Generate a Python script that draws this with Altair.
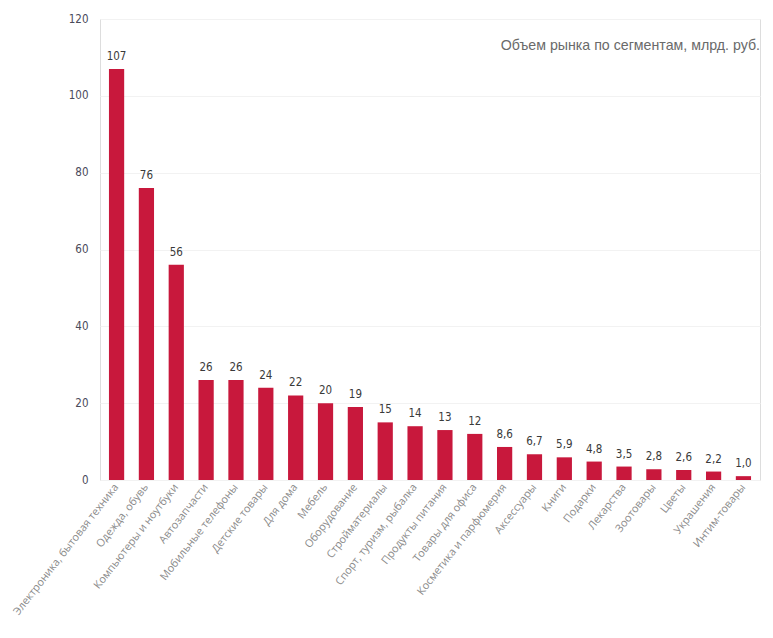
import altair as alt
import pandas as pd

categories = ["Электроника, бытовая техника", "Одежда, обувь", "Компьютеры и ноутбуки",
              "Автозапчасти", "Мобильные телефоны", "Детские товары", "Для дома", "Мебель",
              "Оборудование", "Стройматериалы", "Спорт, туризм, рыбалка", "Продукты питания",
              "Товары для офиса", "Косметика и парфюмерия", "Аксессуары", "Книги", "Подарки",
              "Лекарства", "Зоотовары", "Цветы", "Украшения", "Интим-товары"]
values = [107, 76, 56, 26, 26, 24, 22, 20, 19, 15, 14, 13, 12, 8.6, 6.7, 5.9, 4.8, 3.5, 2.8, 2.6, 2.2, 1.0]
labels = ["107", "76", "56", "26", "26", "24", "22", "20", "19", "15", "14", "13", "12",
          "8,6", "6,7", "5,9", "4,8", "3,5", "2,8", "2,6", "2,2", "1,0"]

df = pd.DataFrame({"cat": categories, "val": values, "lab": labels})

NARROW = "DejaVu Sans Condensed"

x = alt.X("cat:N", sort=None, title=None,
          scale=alt.Scale(paddingInner=0.49, paddingOuter=0.3),
          axis=alt.Axis(labelAngle=-52, labelColor="#8a8a8a", labelFontSize=10.8,
                        labelFont="Open Sans", domain=False, ticks=False,
                        labelPadding=5, labelLimit=300))
y = alt.Y("val:Q", title=None,
          scale=alt.Scale(domain=[0, 120]),
          axis=alt.Axis(values=[0, 20, 40, 60, 80, 100, 120], domain=False, ticks=False,
                        labelColor="#4a4a5a", labelFontSize=11.5, labelFont=NARROW,
                        labelPadding=12, gridColor="#f2f2f2", gridWidth=1))

bars = alt.Chart(df).mark_bar(color="#C8183C").encode(x=x, y=y)
text = alt.Chart(df).mark_text(dy=-12, color="#3a3a3a", fontSize=11.5,
                               font=NARROW).encode(x=x, y="val:Q", text="lab:N")
title = alt.Chart(pd.DataFrame({"t": ["Объем рынка по сегментам, млрд. руб."]})).mark_text(
    align="right", fontSize=14.2, color="#6a6a6a", font="Liberation Sans"
).encode(x=alt.value(660), y=alt.value(27), text="t:N")

chart = (bars + text + title).properties(
    width=660, height=461,
    autosize=alt.AutoSizeParams(type="none"),
    padding={"left": 92, "top": 11, "right": 5, "bottom": 150},
).configure_view(stroke=None).configure(background="white")

chart.save("out.html", embed_options={"renderer": "svg", "actions": False})
